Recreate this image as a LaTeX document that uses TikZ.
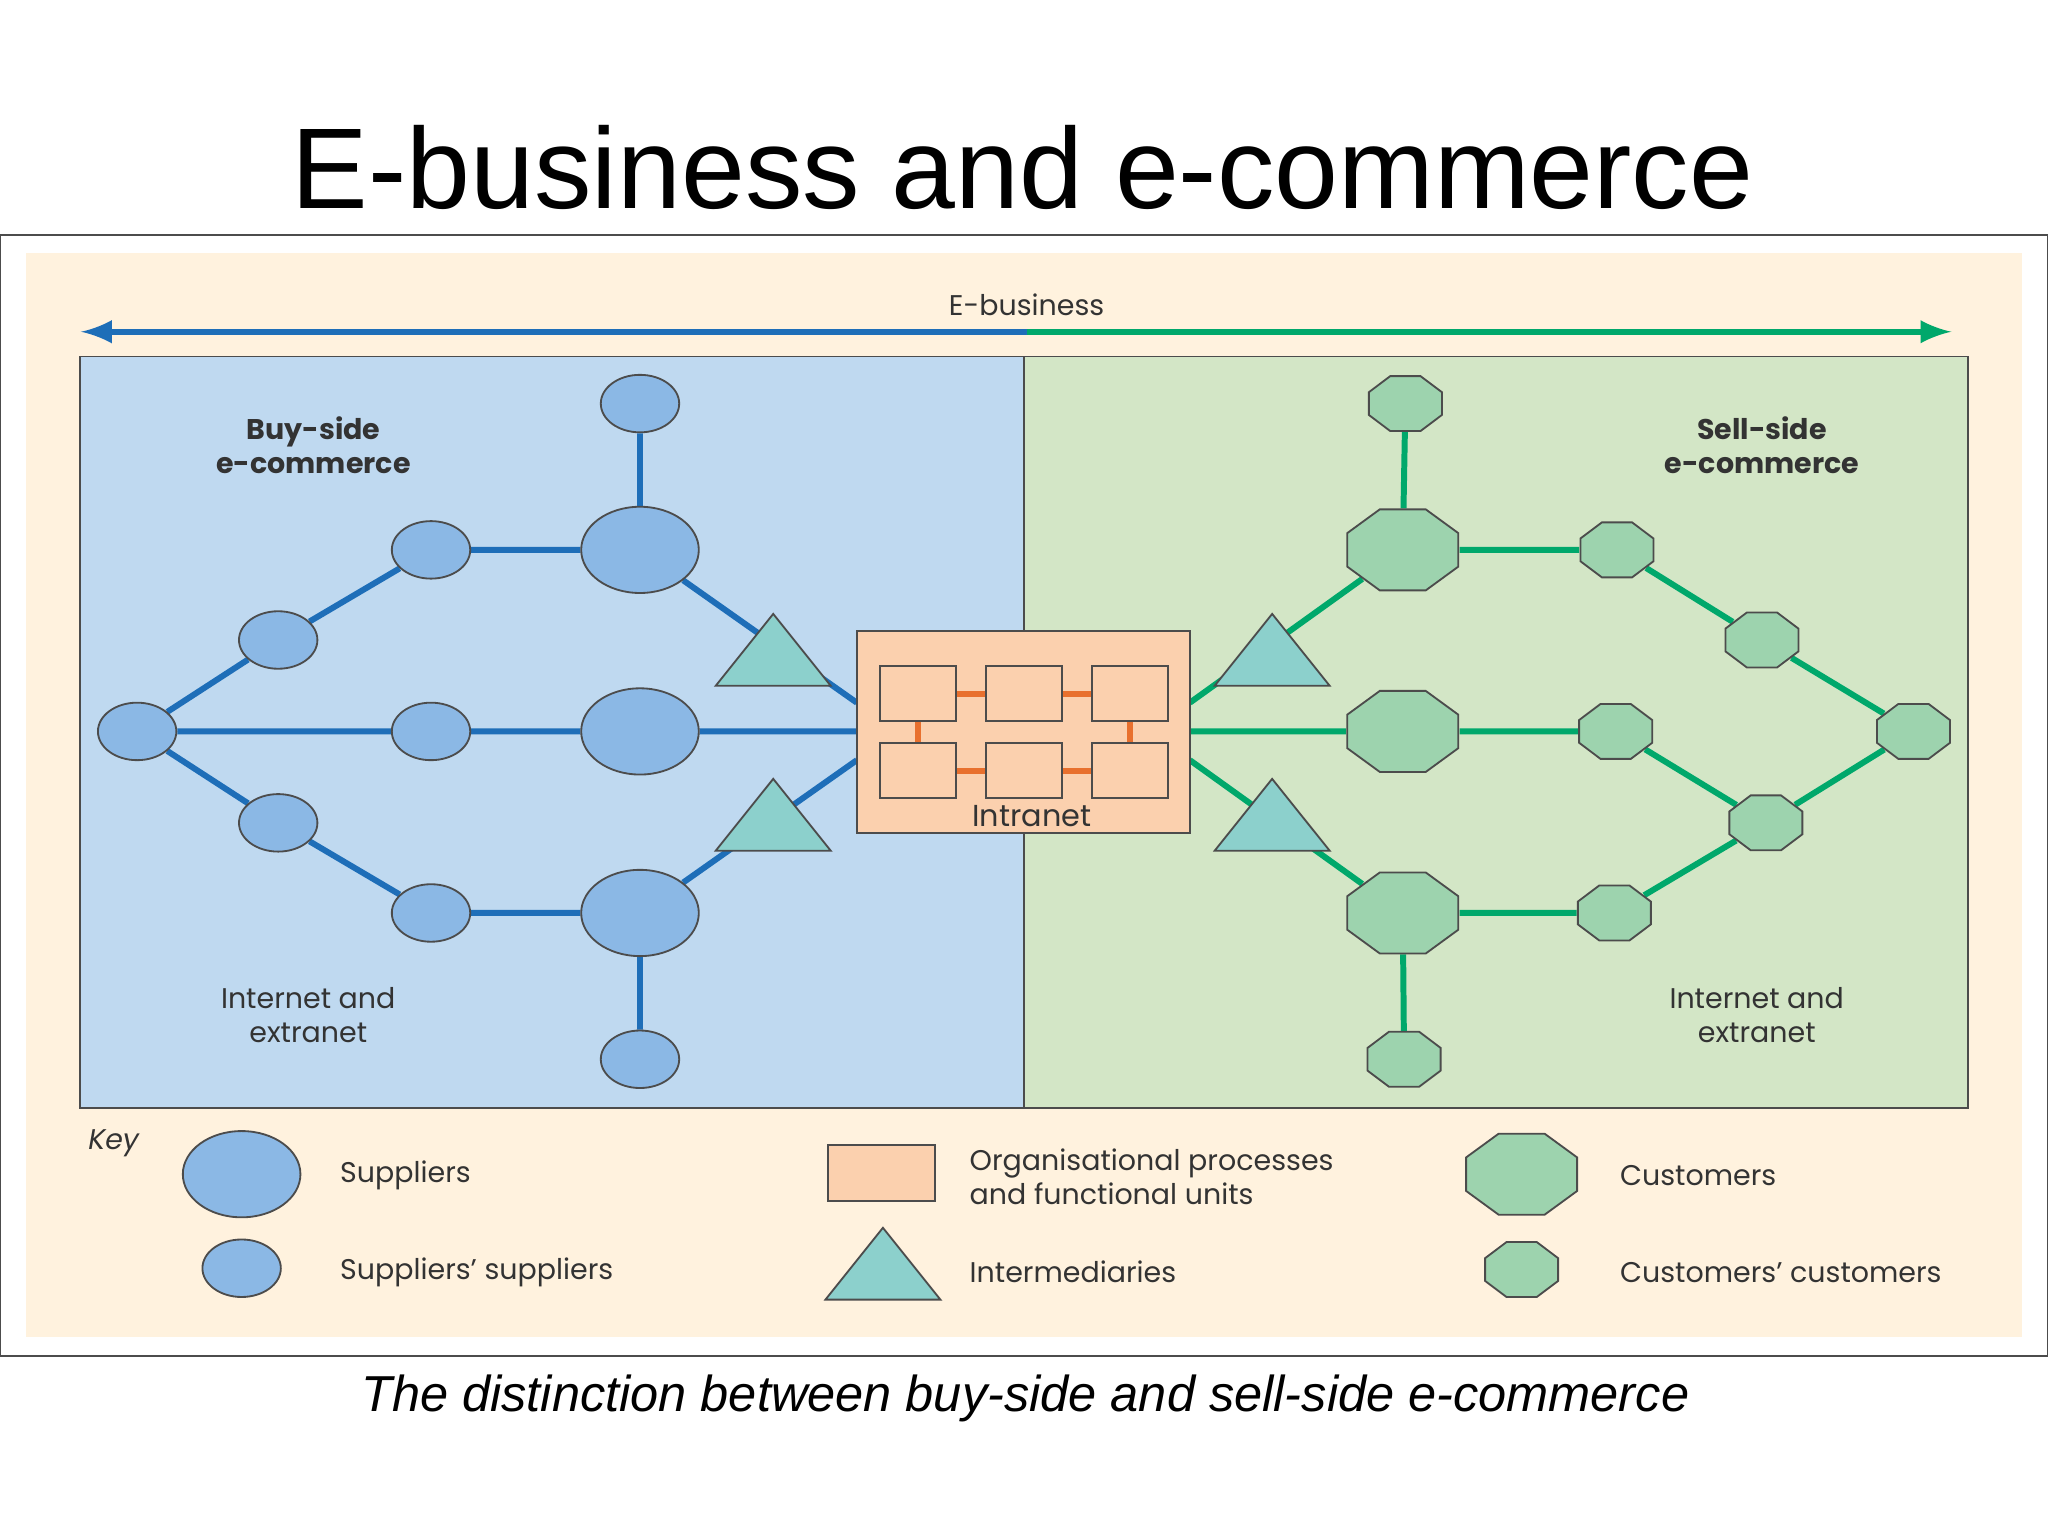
\documentclass[tikz,border=0pt]{standalone}
\usepackage{fontspec}
\setmainfont{Liberation Sans}
\newfontfamily\keyfont{Poppins}
\usetikzlibrary{shapes.geometric, backgrounds, calc}

\pgfdeclarelayer{back}
\pgfsetlayers{back,background,main}

\definecolor{beige}{HTML}{FFF2DE}
\definecolor{buypanel}{HTML}{BFD9F0}
\definecolor{sellpanel}{HTML}{D3E6C6}
\definecolor{suppfill}{HTML}{8BB8E5}
\definecolor{custfill}{HTML}{9DD3AE}
\definecolor{trifill}{HTML}{8CD0CC}
\definecolor{orgfill}{HTML}{FBD0AE}
\definecolor{buyline}{HTML}{1E6EB8}
\definecolor{sellline}{HTML}{00A86B}
\definecolor{orgline}{HTML}{E8702E}

\tikzset{
  lbl/.style={font=\keyfont\fontsize{6.2}{7.6}\selectfont, text=black!80, align=center},
  supplier/.style={ellipse, draw=black!70, fill=suppfill, minimum width=0.9cm, minimum height=0.66cm},
  subsupplier/.style={ellipse, draw=black!70, fill=suppfill, minimum width=0.6cm, minimum height=0.44cm},
  customer/.style={regular polygon, regular polygon sides=8, draw=black!70, fill=custfill,
    minimum size=0.671cm, inner sep=0pt, xscale=1.37, transform shape},
  subcustomer/.style={regular polygon, regular polygon sides=8, draw=black!70, fill=custfill,
    minimum size=0.455cm, inner sep=0pt, xscale=1.33, transform shape},
  broker/.style={regular polygon, regular polygon sides=3, draw=black!70, fill=trifill,
    minimum size=0.733cm, inner sep=0pt, xscale=1.386, transform shape},
  unit/.style={draw=black!70, fill=orgfill, minimum width=0.58cm, minimum height=0.42cm, inner sep=0pt},
  buy/.style={buyline, line width=1.3pt},
  sell/.style={sellline, line width=1.3pt},
  org/.style={orgline, line width=1.3pt}
}

\begin{document}
\begin{tikzpicture}[x=0.01cm, y=-0.01cm]
  \useasboundingbox (0,0) rectangle (1568,1176);

  % Title and caption
  \node (title) at (783,128) {\fontsize{25}{30}\selectfont E-business and e-commerce};
  \node (caption) at (785,1071) {\fontsize{11}{13}\selectfont\itshape The distinction between buy-side and sell-side e-commerce};

  % Frame and panels
  \begin{pgfonlayer}{back}
    \fill[white] (0,0) rectangle (1568,1176);
    \draw[black!70, fill=white] (0,180) rectangle (1568,1038);
    \fill[beige] (20,194) rectangle (1548,1024);
    \draw[black!70, fill=buypanel] (61,273) rectangle (784,848);
    \draw[black!70, fill=sellpanel] (784,273) rectangle (1507,848);
  \end{pgfonlayer}

  % E-business arrow
  \coordinate (ebl) at (62,254);
  \coordinate (ebm) at (786,254);
  \coordinate (ebr) at (1494,254);
  \draw[<-, >=latex, buyline, line width=1.3pt] (ebl) -- (ebm);
  \draw[->, >=latex, sellline, line width=1.3pt] (ebm) -- (ebr);
  \node[lbl] (eb) at (786,233) {E-business};

  % Panel labels
  \node[lbl, font=\keyfont\bfseries\fontsize{6.2}{7.4}\selectfont] (buyside) at (240,341) {Buy-side\\e-commerce};
  \node[lbl, font=\keyfont\bfseries\fontsize{6.2}{7.4}\selectfont] (sellside) at (1349,341) {Sell-side\\e-commerce};
  \node[lbl, font=\keyfont\fontsize{6.2}{7.4}\selectfont] (netl) at (236,777) {Internet and\\extranet};
  \node[lbl, font=\keyfont\fontsize{6.2}{7.4}\selectfont] (netr) at (1345,777) {Internet and\\extranet};

  % Intranet
  \node[draw=black!70, fill=orgfill, minimum width=2.55cm, minimum height=1.55cm] (intranet) at (783.5,560.5) {};
  \node[unit] (u11) at (703,531) {};
  \node[unit] (u12) at (784,531) {};
  \node[unit] (u13) at (865,531) {};
  \node[unit] (u21) at (703,590) {};
  \node[unit] (u22) at (784,590) {};
  \node[unit] (u23) at (865,590) {};
  \node[lbl, font=\keyfont\fontsize{6.6}{8}\selectfont] (intralbl) at (790,625) {Intranet};
  \draw[org] (u11) -- (u12) -- (u13) (u21) -- (u22) -- (u23)
    (u11) -- (u21) (u13) -- (u23);
  \coordinate (inwt) at (656,538);
  \coordinate (inwb) at (656,582);
  \coordinate (inet) at (911,538);
  \coordinate (ineb) at (911,582);

  % Buy side nodes
  \node[supplier] (s1) at (490,421) {};
  \node[supplier] (s2) at (490,560) {};
  \node[supplier] (s3) at (490,699) {};
  \node[subsupplier] (ss0) at (105,560) {};
  \node[subsupplier] (ss1) at (490,309) {};
  \node[subsupplier] (ss2) at (330,421) {};
  \node[subsupplier] (ss3) at (213,490) {};
  \node[subsupplier] (ss4) at (330,560) {};
  \node[subsupplier] (ss5) at (213,630) {};
  \node[subsupplier] (ss6) at (330,699) {};
  \node[subsupplier] (ss7) at (490,811) {};
  \node[broker] (bt1) at (592,506.7) {};
  \node[broker] (bt2) at (592,633) {};

  % Sell side nodes
  \node[customer] (c1) at (1074,421) {};
  \node[customer] (c2) at (1074,560) {};
  \node[customer] (c3) at (1074,699) {};
  \node[subcustomer] (cc1) at (1076,309) {};
  \node[subcustomer] (cc2) at (1238,421) {};
  \node[subcustomer] (cc3) at (1349,490) {};
  \node[subcustomer] (cc4) at (1465,560) {};
  \node[subcustomer] (cc5) at (1237,560) {};
  \node[subcustomer] (cc6) at (1352,630) {};
  \node[subcustomer] (cc7) at (1236,699) {};
  \node[subcustomer] (cc8) at (1075,811) {};
  \node[broker] (st1) at (974,506.7) {};
  \node[broker] (st2) at (974,633) {};

  % Links
  \begin{scope}[on background layer]
    \draw[buy] (ss1) -- (s1) -- (ss2) -- (ss3) -- (ss0) -- (ss4) -- (s2) -- (inwt |- s2);
    \draw[buy] (ss0) -- (ss5) -- (ss6) -- (s3) -- (ss7);
    \draw[buy] (s1) -- (inwt);
    \draw[buy] (s3) -- (inwb);
    \draw[sell] (cc1) -- (c1) -- (cc2) -- (cc3) -- (cc4) -- (cc6) -- (cc7) -- (c3) -- (cc8);
    \draw[sell] (inet |- c2) -- (c2) -- (cc5) -- (cc6);
    \draw[sell] (inet) -- (c1);
    \draw[sell] (ineb) -- (c3);
  \end{scope}

  % Key
  \node[lbl, font=\keyfont\itshape\fontsize{6.2}{7.6}\selectfont] (key) at (87,875) {Key};
  \node[supplier] (ksup) at (185,899) {};
  \node[subsupplier] (kss) at (185,971) {};
  \node[lbl, anchor=west] (ksupt) at (248,900) {Suppliers};
  \node[lbl, anchor=west] (ksst) at (248,974) {Suppliers’ suppliers};
  \node[draw=black!70, fill=orgfill, minimum width=0.82cm, minimum height=0.43cm] (korg) at (675,898) {};
  \node[broker] (kint) at (676,976.7) {};
  \node[lbl, anchor=west, align=left] (korgt) at (730,901) {Organisational processes\\and functional units};
  \node[lbl, anchor=west] (kintt) at (730,974) {Intermediaries};
  \node[customer] (kcus) at (1165,899) {};
  \node[subcustomer] (kcc) at (1165,972) {};
  \node[lbl, anchor=west] (kcust) at (1228,900) {Customers};
  \node[lbl, anchor=west] (kcct) at (1228,974) {Customers’ customers};
\end{tikzpicture}
\end{document}
